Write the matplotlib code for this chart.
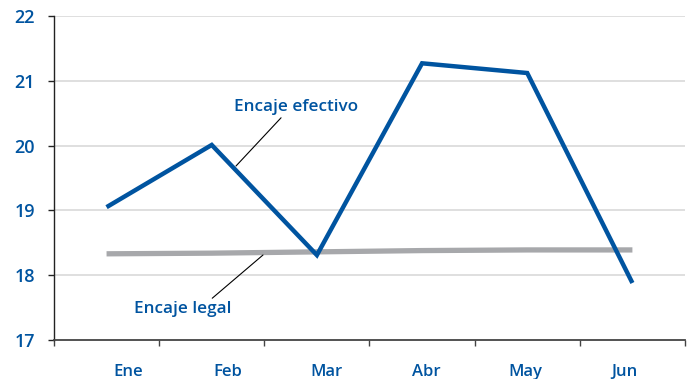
import numpy as np
import matplotlib.pyplot as plt

meses = ['Ene', 'Feb', 'Mar', 'Abr', 'May', 'Jun']
efectivo = [19.05, 20.01, 18.31, 21.27, 21.12, 17.88]
legal = [18.33, 18.34, 18.36, 18.38, 18.39, 18.39]

azul = '#0054A0'
gris = '#A7A8AB'
plt.rcParams['font.family'] = ['Open Sans', 'DejaVu Sans']
plt.rcParams['font.weight'] = 'semibold'

fig = plt.figure(figsize=(6.91, 3.79), dpi=100)
ax = fig.add_axes([0.0781, 0.1029, 0.9132, 0.8549])

x = np.arange(len(meses))
ax.plot(x, legal, color=gris, lw=3.8, solid_capstyle='butt', zorder=2)
ax.plot(x, efectivo, color=azul, lw=3.2, solid_capstyle='butt',
        solid_joinstyle='miter', zorder=3)

ax.set_xlim(-0.5, len(meses) - 0.5)
ax.set_ylim(17, 22)
ax.set_yticks(range(17, 23))
ax.set_xticks(np.arange(len(meses) + 1) - 0.5)
ax.set_xticklabels([])
# the month labels sit a little inside the category centres in the original
ax.set_xticks(np.linspace(0.21, 4.92, len(meses)), minor=True)
ax.set_xticklabels(meses, minor=True)

for v in range(18, 23):
    ax.axhline(v, color='#D9D9D9', lw=1.2, zorder=1)

for s in ['top', 'right']:
    ax.spines[s].set_visible(False)
ax.spines['left'].set_color('#222222')
ax.spines['bottom'].set_color('#444444')
ax.spines['left'].set_linewidth(1.0)
ax.spines['bottom'].set_linewidth(1.3)

ax.tick_params(axis='y', direction='out', length=4.5, width=1, color='#222222',
               labelsize=13, labelcolor=azul, pad=9)
ax.tick_params(axis='x', which='major', direction='out', length=4.5, width=1,
               color='#444444')
ax.tick_params(axis='x', which='minor', length=0, labelsize=12,
               labelcolor=azul, pad=17)

ax.annotate('Encaje efectivo', xy=(236, 379 - 166), xycoords='figure pixels',
            xytext=(234, 379 - 107), textcoords='figure pixels',
            color=azul, fontsize=12.3, va='center', ha='left',
            arrowprops=dict(arrowstyle='-', color='black', lw=0.8,
                            shrinkA=0, shrinkB=0, relpos=(0.4, 0)))
ax.annotate('Encaje legal', xy=(263, 379 - 255), xycoords='figure pixels',
            xytext=(134, 379 - 309), textcoords='figure pixels',
            color=azul, fontsize=12.3, va='center', ha='left',
            arrowprops=dict(arrowstyle='-', color='black', lw=0.8,
                            shrinkA=0, shrinkB=0, relpos=(0.77, 1)))

fig.savefig('out.png', dpi=100)
